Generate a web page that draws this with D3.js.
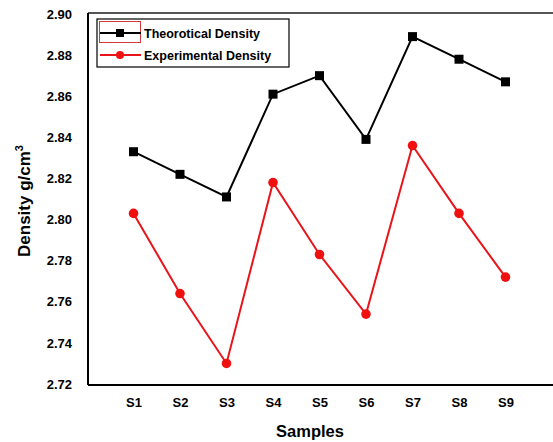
<!DOCTYPE html>
<html>
<head>
<meta charset="utf-8">
<script src="https://cdn.jsdelivr.net/npm/d3@7"></script>
<style>
  body { margin: 0; background: #fff; }
  svg { font-family: "Liberation Sans", Arial, sans-serif; font-weight: bold; }
</style>
</head>
<body>
<svg width="553" height="442"></svg>
<script>
// data
let samples = ["S1", "S2", "S3", "S4", "S5", "S6", "S7", "S8", "S9"];
let theoretical = [2.833, 2.822, 2.811, 2.861, 2.870, 2.839, 2.889, 2.878, 2.867];
let experimental = [2.803, 2.764, 2.730, 2.818, 2.783, 2.754, 2.836, 2.803, 2.772];
let yTicks = [2.72, 2.74, 2.76, 2.78, 2.80, 2.82, 2.84, 2.86, 2.88, 2.90];

let width = 553, height = 442;
let margin = { top: 13, bottom: 57, left: 88, right: 0 };

let svg = d3.select("svg");

let xScale = d3.scaleLinear()
  .domain([0, samples.length + 1])
  .range([margin.left - 1, width - 1]);

let yScale = d3.scaleLinear()
  .domain([2.72, 2.90])
  .range([height - margin.bottom - 1, margin.top + 1]);

// frame
svg.append("line")
   .attr("x1", margin.left).attr("x2", width)
   .attr("y1", margin.top).attr("y2", margin.top)
   .attr("stroke", "#555").attr("stroke-width", 2);

svg.append("line")
   .attr("x1", margin.left).attr("x2", width)
   .attr("y1", height - margin.bottom).attr("y2", height - margin.bottom)
   .attr("stroke", "#000").attr("stroke-width", 2);

svg.append("line")
   .attr("x1", margin.left).attr("x2", margin.left)
   .attr("y1", margin.top).attr("y2", height - margin.bottom)
   .attr("stroke", "#000").attr("stroke-width", 2);

// axes (labels only)
let yAxis = svg.append("g")
   .attr("transform", `translate(${margin.left}, 0)`)
   .call(d3.axisLeft(yScale).tickValues(yTicks).tickFormat(d3.format(".2f")).tickSize(0).tickPadding(16));
yAxis.select(".domain").remove();
yAxis.selectAll("text").attr("font-size", 13).attr("font-weight", "bold")
   .attr("font-family", "Liberation Sans, Arial, sans-serif").attr("fill", "#000");

let xAxis = svg.append("g")
   .attr("transform", `translate(0, ${height - margin.bottom})`)
   .call(d3.axisBottom(xScale).tickValues(d3.range(1, samples.length + 1))
        .tickFormat(i => samples[i - 1]).tickSize(0).tickPadding(13));
xAxis.select(".domain").remove();
xAxis.selectAll("text").attr("font-size", 13).attr("font-weight", "bold")
   .attr("font-family", "Liberation Sans, Arial, sans-serif").attr("fill", "#000");

// labels
svg.append("text")
   .attr("x", 310)
   .attr("y", 437)
   .attr("font-size", 16.5)
   .style("text-anchor", "middle")
   .text("Samples");

let yl = svg.append("text")
   .attr("transform", "translate(30, 201) rotate(-90)")
   .attr("font-size", 17)
   .style("text-anchor", "middle");
yl.append("tspan").text("Density g/cm");
yl.append("tspan").attr("font-size", 11).attr("dy", -7).text("3");

// series
let line = d3.line()
   .x((d, i) => xScale(i + 1))
   .y(d => yScale(d));

svg.append("path")
   .datum(theoretical)
   .attr("d", line)
   .attr("fill", "none")
   .attr("stroke", "#000")
   .attr("stroke-width", 2);

svg.append("path")
   .datum(experimental)
   .attr("d", line)
   .attr("fill", "none")
   .attr("stroke", "#e8141a")
   .attr("stroke-width", 2);

svg.selectAll(".sq")
   .data(theoretical)
   .enter()
   .append("rect")
   .attr("class", "sq")
   .attr("x", (d, i) => xScale(i + 1) - 4.5)
   .attr("y", d => yScale(d) - 4.5)
   .attr("width", 9)
   .attr("height", 9)
   .attr("fill", "#000");

svg.selectAll(".dot")
   .data(experimental)
   .enter()
   .append("circle")
   .attr("class", "dot")
   .attr("cx", (d, i) => xScale(i + 1))
   .attr("cy", d => yScale(d))
   .attr("r", 4.8)
   .attr("fill", "#f01010");

// legend
let lg = svg.append("g");
lg.append("rect")
  .attr("x", 97).attr("y", 19).attr("width", 192).attr("height", 48)
  .attr("fill", "#fff").attr("stroke", "#000").attr("stroke-width", 1.2);
lg.append("rect")
  .attr("x", 99.5).attr("y", 21.5).attr("width", 41).attr("height", 21)
  .attr("fill", "none").attr("stroke", "#d23a3a").attr("stroke-width", 1);

lg.append("line").attr("x1", 100).attr("x2", 141).attr("y1", 33).attr("y2", 33)
  .attr("stroke", "#000").attr("stroke-width", 2);
lg.append("rect").attr("x", 116).attr("y", 29).attr("width", 8).attr("height", 8).attr("fill", "#000");
lg.append("text").attr("x", 144).attr("y", 38).attr("font-size", 12.5).text("Theorotical Density");

lg.append("line").attr("x1", 100).attr("x2", 141).attr("y1", 55).attr("y2", 55)
  .attr("stroke", "#e8141a").attr("stroke-width", 2);
lg.append("circle").attr("cx", 120).attr("cy", 55).attr("r", 4).attr("fill", "#f01010");
lg.append("text").attr("x", 144).attr("y", 60).attr("font-size", 12.5).text("Experimental Density");
</script>
</body>
</html>
